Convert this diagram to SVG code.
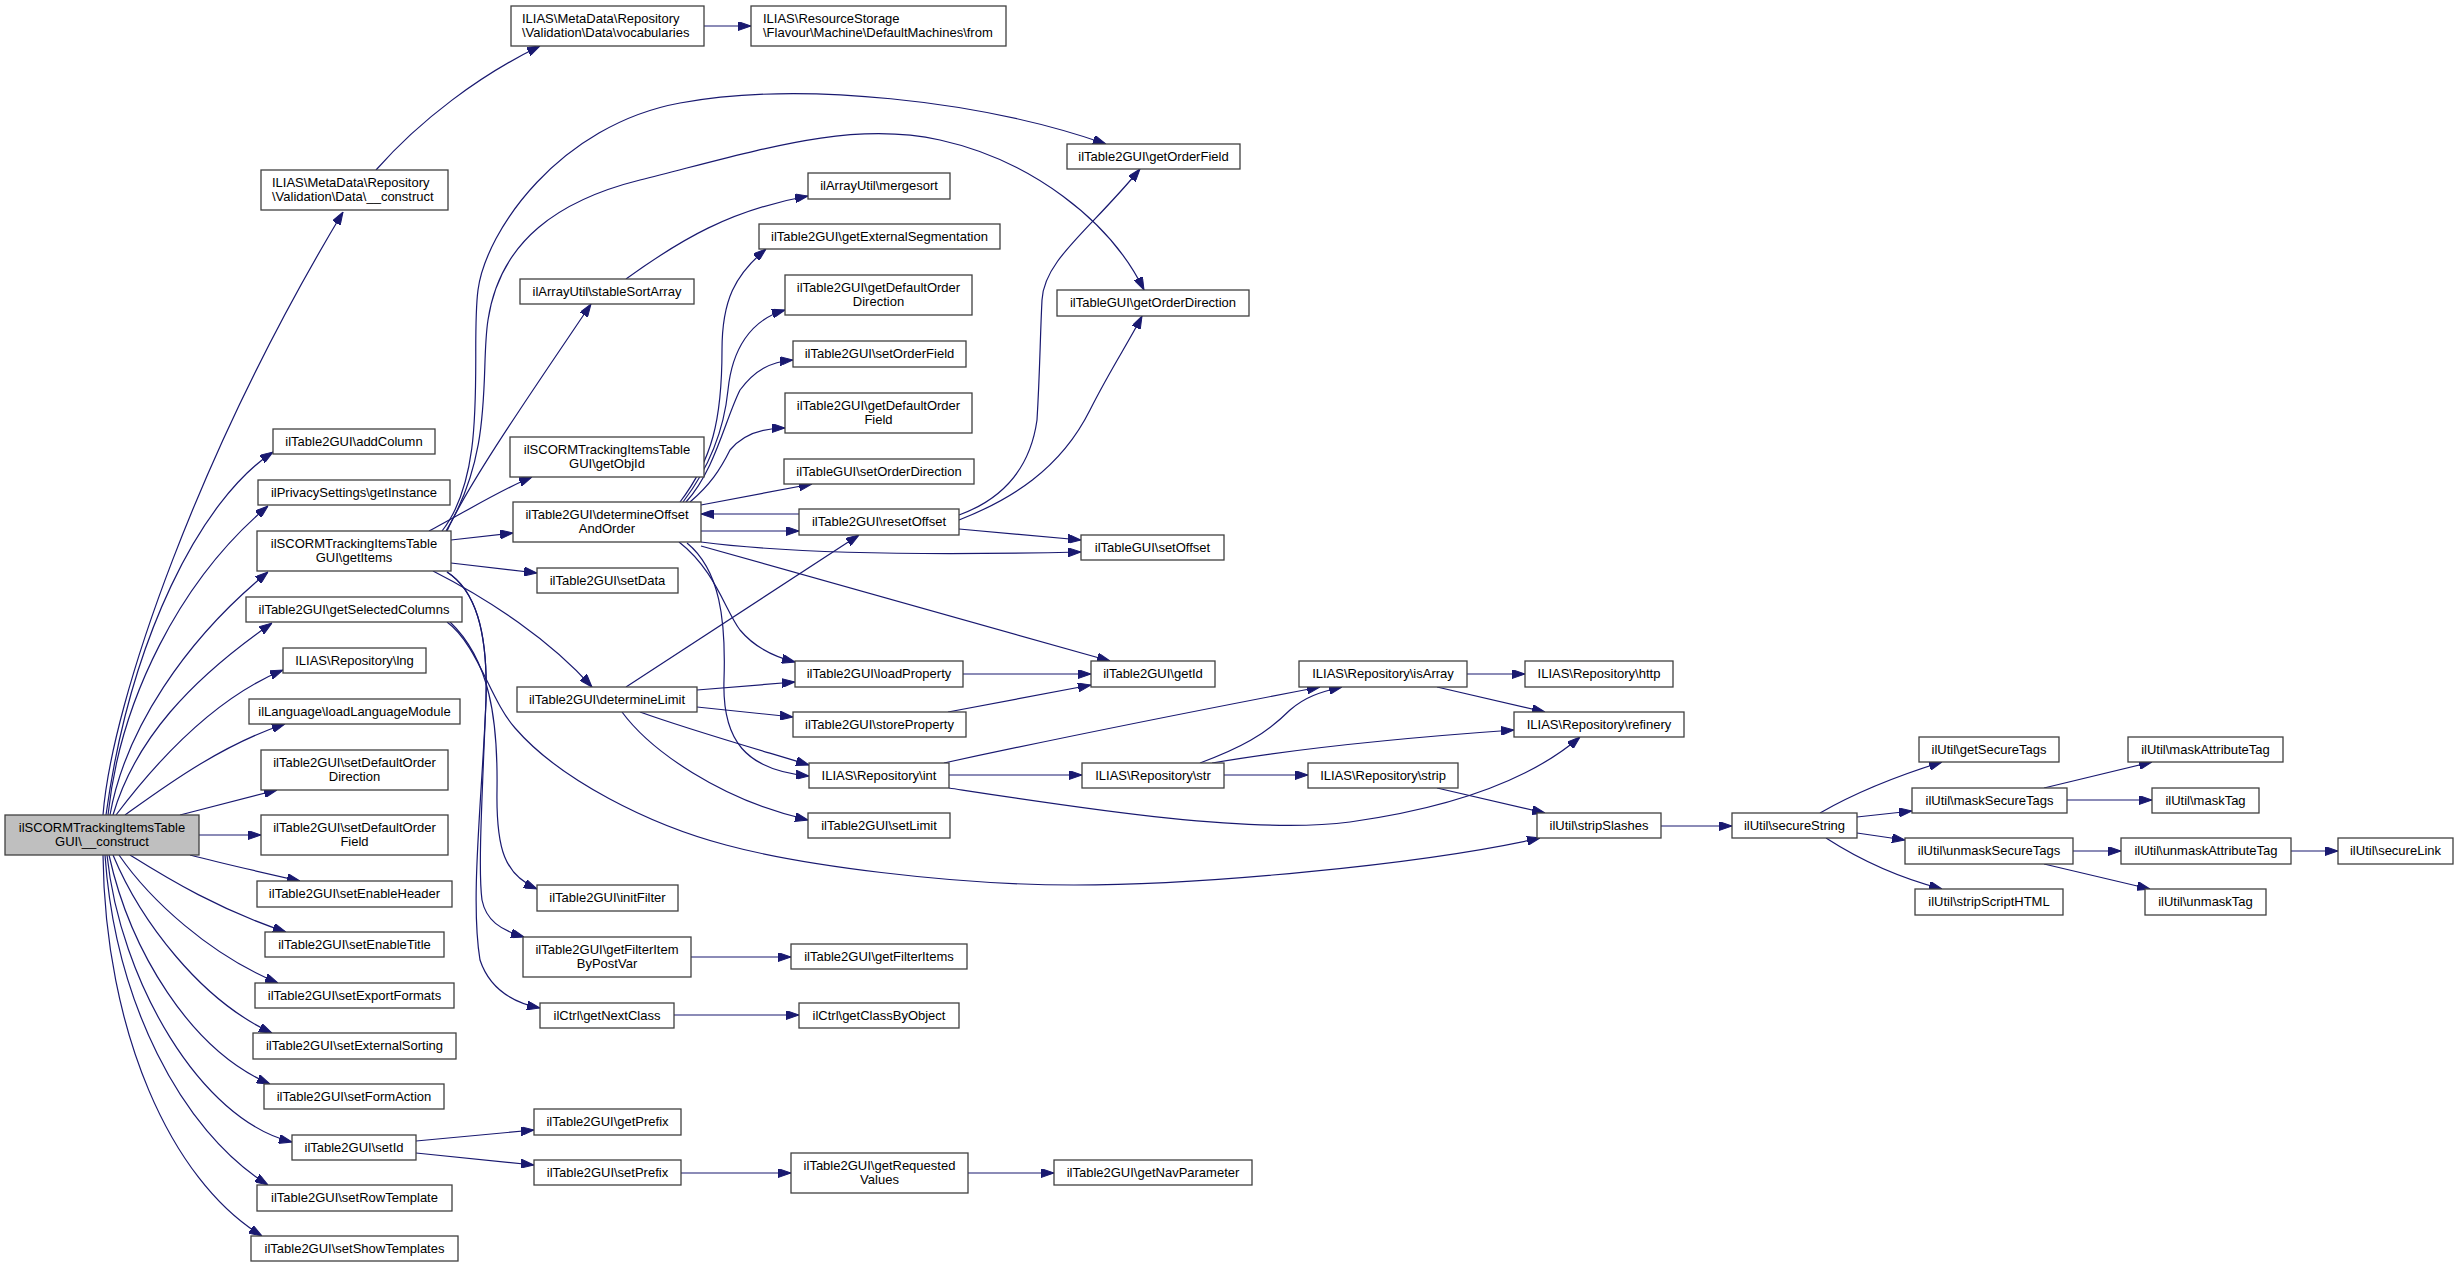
<svg xmlns="http://www.w3.org/2000/svg" width="2459" height="1267" viewBox="0 0 2459 1267">
<style>
.n rect{fill:#ffffff;stroke:#404040;stroke-width:1.3}
.m rect{fill:#bfbfbf;stroke:#404040;stroke-width:1.3}
text{font-family:"Liberation Sans",Arial,Helvetica,sans-serif;font-size:13px;fill:#000000;text-anchor:middle}
text.l{text-anchor:start}
#edges path{fill:none;stroke:#191970;stroke-width:1.2;marker-end:url(#ah)}
</style>
<defs>
<marker id="ah" markerUnits="userSpaceOnUse" markerWidth="13" markerHeight="9" refX="13" refY="4.5" orient="auto">
<path d="M0,0 L13,4.5 L0,9 z" fill="#191970" stroke="#191970" stroke-width="1"/>
</marker>
</defs>
<rect x="0" y="0" width="2459" height="1267" fill="#ffffff"/>
<g id="edges">
<path d="M103,815 C112,700 200,450 343,212"/>
<path d="M106,815 C130,640 200,500 273,452"/>
<path d="M108,815 C120,700 180,580 268,506"/>
<path d="M110,815 C125,730 185,640 268,572"/>
<path d="M113,815 C135,740 190,680 272,623"/>
<path d="M116,815 C150,770 210,700 283,670"/>
<path d="M125,815 C160,790 220,745 285,724"/>
<path d="M180,815 L277,790"/>
<path d="M199,835 L261,835"/>
<path d="M190,855 C220,863 260,872 300,881"/>
<path d="M130,855 C170,880 220,910 286,932"/>
<path d="M119,855 C150,900 210,955 278,983"/>
<path d="M113,855 C140,920 200,1000 272,1033"/>
<path d="M109,855 C130,950 190,1050 270,1084"/>
<path d="M107,855 C120,980 200,1120 292,1142"/>
<path d="M105,855 C115,1000 180,1130 268,1185"/>
<path d="M103,855 C105,1030 170,1180 262,1236"/>
<path d="M376,170 C420,120 480,75 540,46"/>
<path d="M704,26 L751,26"/>
<path d="M429,531 C460,515 500,490 532,477"/>
<path d="M451,540 L513,533"/>
<path d="M451,563 L537,573"/>
<path d="M433,571 C490,600 550,640 592,687"/>
<path d="M447,531 C470,480 540,380 591,304"/>
<path d="M442,531 C490,470 470,350 478,290 C486,230 560,125 680,103 C800,81 980,100 1106,144"/>
<path d="M446,531 C495,450 480,370 488,320 C500,240 560,200 640,180 C760,150 850,120 940,140 C1030,160 1110,220 1144,290"/>
<path d="M447,572 C475,590 488,630 486,700 C482,800 478,870 482,900 C486,920 500,930 524,937"/>
<path d="M447,572 C475,590 488,630 486,700 C482,800 470,900 480,960 C490,990 515,1003 540,1008"/>
<path d="M450,622 C490,660 498,720 497,790 C496,850 505,875 537,889"/>
<path d="M447,622 C478,645 490,700 515,728 C560,780 650,825 726,845 C800,865 950,885 1074,885 C1200,885 1420,865 1540,838"/>
<path d="M626,279 C680,240 730,210 808,196"/>
<path d="M680,502 C712,460 722,420 722,350 C722,300 735,275 766,249"/>
<path d="M683,502 C715,460 725,420 728,390 C732,350 750,320 785,310"/>
<path d="M686,502 C715,470 725,420 740,390 C755,370 770,362 793,360"/>
<path d="M690,502 C710,485 720,470 730,450 C745,432 765,428 785,428"/>
<path d="M701,505 L812,484"/>
<path d="M701,531 L799,531"/>
<path d="M799,514 L701,514"/>
<path d="M701,542 C800,555 950,555 1081,552"/>
<path d="M701,546 L1110,661"/>
<path d="M679,542 C715,570 725,610 740,630 C755,648 775,657 795,662"/>
<path d="M687,543 C720,570 726,620 724,680 C722,740 745,770 809,776"/>
<path d="M626,687 L859,535"/>
<path d="M697,690 L795,682"/>
<path d="M697,707 L793,717"/>
<path d="M640,712 C690,730 760,750 809,765"/>
<path d="M622,712 C650,750 720,800 808,820"/>
<path d="M959,515 C1000,500 1030,470 1037,420 C1040,370 1040,340 1042,300 C1044,260 1090,230 1140,169"/>
<path d="M959,520 C1010,500 1060,470 1090,410 C1110,370 1130,340 1142,316"/>
<path d="M959,529 L1081,540"/>
<path d="M963,674 L1091,674"/>
<path d="M948,712 L1091,685"/>
<path d="M949,775 L1082,775"/>
<path d="M944,763 C1050,740 1200,710 1320,687"/>
<path d="M949,788 C1080,808 1250,835 1350,822 C1450,808 1530,780 1580,737"/>
<path d="M1200,763 C1240,748 1265,735 1290,710 C1305,697 1320,692 1342,687"/>
<path d="M1212,763 C1300,748 1400,738 1514,730"/>
<path d="M1224,775 L1308,775"/>
<path d="M1467,674 L1525,674"/>
<path d="M1437,687 L1545,712"/>
<path d="M1437,788 L1545,813"/>
<path d="M1661,826 L1732,826"/>
<path d="M1820,813 C1860,790 1900,775 1942,762"/>
<path d="M1857,817 L1912,811"/>
<path d="M1857,833 L1905,840"/>
<path d="M1826,838 C1860,860 1900,878 1942,889"/>
<path d="M2044,788 L2152,762"/>
<path d="M2067,800 L2152,800"/>
<path d="M2073,851 L2121,851"/>
<path d="M2044,864 L2150,889"/>
<path d="M2291,851 L2338,851"/>
<path d="M416,1141 L534,1130"/>
<path d="M416,1153 L534,1165"/>
<path d="M681,1173 L791,1173"/>
<path d="M968,1173 L1054,1173"/>
<path d="M691,957 L791,957"/>
<path d="M674,1015 L799,1015"/>
</g>
<g id="main" class="m"><rect x="5" y="815" width="194" height="40"/><text x="102" y="832">ilSCORMTrackingItemsTable</text><text x="102" y="846">GUI\__construct</text></g>
<g id="n_mdconstruct" class="n"><rect x="261" y="170" width="187" height="40"/><text class="l" x="272" y="187">ILIAS\MetaData\Repository</text><text class="l" x="272" y="201">\Validation\Data\__construct</text></g>
<g id="n_vocab" class="n"><rect x="511" y="6" width="193" height="40"/><text class="l" x="522" y="23">ILIAS\MetaData\Repository</text><text class="l" x="522" y="37">\Validation\Data\vocabularies</text></g>
<g id="n_from" class="n"><rect x="751" y="6" width="255" height="40"/><text class="l" x="763" y="23">ILIAS\ResourceStorage</text><text class="l" x="763" y="37">\Flavour\Machine\DefaultMachines\from</text></g>
<g id="n_addColumn" class="n"><rect x="273" y="429" width="162" height="25"/><text x="354" y="446">ilTable2GUI\addColumn</text></g>
<g id="n_getInstance" class="n"><rect x="258" y="480" width="192" height="25"/><text x="354" y="497">ilPrivacySettings\getInstance</text></g>
<g id="n_getItems" class="n"><rect x="257" y="531" width="194" height="40"/><text x="354" y="548">ilSCORMTrackingItemsTable</text><text x="354" y="562">GUI\getItems</text></g>
<g id="n_getSelectedColumns" class="n"><rect x="246" y="597" width="216" height="25"/><text x="354" y="614">ilTable2GUI\getSelectedColumns</text></g>
<g id="n_lng" class="n"><rect x="283" y="648" width="143" height="25"/><text x="354.5" y="665">ILIAS\Repository\lng</text></g>
<g id="n_loadLanguageModule" class="n"><rect x="249" y="699" width="211" height="25"/><text x="354.5" y="716">ilLanguage\loadLanguageModule</text></g>
<g id="n_setDefaultOrderDirection" class="n"><rect x="261" y="750" width="187" height="40"/><text x="354.5" y="767">ilTable2GUI\setDefaultOrder</text><text x="354.5" y="781">Direction</text></g>
<g id="n_setDefaultOrderField" class="n"><rect x="261" y="815" width="187" height="40"/><text x="354.5" y="832">ilTable2GUI\setDefaultOrder</text><text x="354.5" y="846">Field</text></g>
<g id="n_setEnableHeader" class="n"><rect x="257" y="881" width="195" height="26"/><text x="354.5" y="898">ilTable2GUI\setEnableHeader</text></g>
<g id="n_setEnableTitle" class="n"><rect x="265" y="932" width="179" height="25"/><text x="354.5" y="949">ilTable2GUI\setEnableTitle</text></g>
<g id="n_setExportFormats" class="n"><rect x="255" y="983" width="199" height="25"/><text x="354.5" y="1000">ilTable2GUI\setExportFormats</text></g>
<g id="n_setExternalSorting" class="n"><rect x="253" y="1033" width="203" height="26"/><text x="354.5" y="1050">ilTable2GUI\setExternalSorting</text></g>
<g id="n_setFormAction" class="n"><rect x="264" y="1084" width="180" height="25"/><text x="354" y="1101">ilTable2GUI\setFormAction</text></g>
<g id="n_setId" class="n"><rect x="292" y="1135" width="124" height="25"/><text x="354" y="1152">ilTable2GUI\setId</text></g>
<g id="n_setRowTemplate" class="n"><rect x="257" y="1185" width="195" height="26"/><text x="354.5" y="1202">ilTable2GUI\setRowTemplate</text></g>
<g id="n_setShowTemplates" class="n"><rect x="251" y="1236" width="207" height="25"/><text x="354.5" y="1253">ilTable2GUI\setShowTemplates</text></g>
<g id="n_stableSortArray" class="n"><rect x="520" y="279" width="174" height="25"/><text x="607" y="296">ilArrayUtil\stableSortArray</text></g>
<g id="n_getObjId" class="n"><rect x="510" y="437" width="194" height="40"/><text x="607" y="454">ilSCORMTrackingItemsTable</text><text x="607" y="468">GUI\getObjId</text></g>
<g id="n_determineOffsetAndOrder" class="n"><rect x="513" y="502" width="188" height="40"/><text x="607" y="519">ilTable2GUI\determineOffset</text><text x="607" y="533">AndOrder</text></g>
<g id="n_setData" class="n"><rect x="537" y="568" width="141" height="25"/><text x="607.5" y="585">ilTable2GUI\setData</text></g>
<g id="n_determineLimit" class="n"><rect x="517" y="687" width="180" height="25"/><text x="607" y="704">ilTable2GUI\determineLimit</text></g>
<g id="n_initFilter" class="n"><rect x="537" y="885" width="141" height="26"/><text x="607.5" y="902">ilTable2GUI\initFilter</text></g>
<g id="n_getFilterItemByPostVar" class="n"><rect x="523" y="937" width="168" height="40"/><text x="607" y="954">ilTable2GUI\getFilterItem</text><text x="607" y="968">ByPostVar</text></g>
<g id="n_getNextClass" class="n"><rect x="540" y="1003" width="134" height="25"/><text x="607" y="1020">ilCtrl\getNextClass</text></g>
<g id="n_getPrefix" class="n"><rect x="534" y="1109" width="147" height="26"/><text x="607.5" y="1126">ilTable2GUI\getPrefix</text></g>
<g id="n_setPrefix" class="n"><rect x="534" y="1160" width="147" height="25"/><text x="607.5" y="1177">ilTable2GUI\setPrefix</text></g>
<g id="n_mergesort" class="n"><rect x="808" y="173" width="142" height="26"/><text x="879" y="190">ilArrayUtil\mergesort</text></g>
<g id="n_getExternalSegmentation" class="n"><rect x="759" y="224" width="241" height="25"/><text x="879.5" y="241">ilTable2GUI\getExternalSegmentation</text></g>
<g id="n_getDefaultOrderDirection" class="n"><rect x="785" y="275" width="187" height="40"/><text x="878.5" y="292">ilTable2GUI\getDefaultOrder</text><text x="878.5" y="306">Direction</text></g>
<g id="n_setOrderField" class="n"><rect x="793" y="341" width="173" height="26"/><text x="879.5" y="358">ilTable2GUI\setOrderField</text></g>
<g id="n_getDefaultOrderField" class="n"><rect x="785" y="393" width="187" height="40"/><text x="878.5" y="410">ilTable2GUI\getDefaultOrder</text><text x="878.5" y="424">Field</text></g>
<g id="n_setOrderDirection" class="n"><rect x="784" y="459" width="190" height="25"/><text x="879" y="476">ilTableGUI\setOrderDirection</text></g>
<g id="n_resetOffset" class="n"><rect x="799" y="509" width="160" height="26"/><text x="879" y="526">ilTable2GUI\resetOffset</text></g>
<g id="n_loadProperty" class="n"><rect x="795" y="661" width="168" height="26"/><text x="879" y="678">ilTable2GUI\loadProperty</text></g>
<g id="n_storeProperty" class="n"><rect x="793" y="712" width="173" height="25"/><text x="879.5" y="729">ilTable2GUI\storeProperty</text></g>
<g id="n_int" class="n"><rect x="809" y="763" width="140" height="25"/><text x="879" y="780">ILIAS\Repository\int</text></g>
<g id="n_setLimit" class="n"><rect x="808" y="813" width="142" height="25"/><text x="879" y="830">ilTable2GUI\setLimit</text></g>
<g id="n_getFilterItems" class="n"><rect x="791" y="944" width="176" height="25"/><text x="879" y="961">ilTable2GUI\getFilterItems</text></g>
<g id="n_getClassByObject" class="n"><rect x="799" y="1003" width="160" height="25"/><text x="879" y="1020">ilCtrl\getClassByObject</text></g>
<g id="n_getRequestedValues" class="n"><rect x="791" y="1153" width="177" height="40"/><text x="879.5" y="1170">ilTable2GUI\getRequested</text><text x="879.5" y="1184">Values</text></g>
<g id="n_getOrderField" class="n"><rect x="1067" y="144" width="173" height="25"/><text x="1153.5" y="161">ilTable2GUI\getOrderField</text></g>
<g id="n_getOrderDirection" class="n"><rect x="1057" y="290" width="192" height="26"/><text x="1153" y="307">ilTableGUI\getOrderDirection</text></g>
<g id="n_setOffset" class="n"><rect x="1081" y="535" width="143" height="25"/><text x="1152.5" y="552">ilTableGUI\setOffset</text></g>
<g id="n_getId" class="n"><rect x="1091" y="661" width="124" height="26"/><text x="1153" y="678">ilTable2GUI\getId</text></g>
<g id="n_str" class="n"><rect x="1082" y="763" width="142" height="25"/><text x="1153" y="780">ILIAS\Repository\str</text></g>
<g id="n_getNavParameter" class="n"><rect x="1054" y="1160" width="198" height="25"/><text x="1153" y="1177">ilTable2GUI\getNavParameter</text></g>
<g id="n_isArray" class="n"><rect x="1299" y="661" width="168" height="26"/><text x="1383" y="678">ILIAS\Repository\isArray</text></g>
<g id="n_strip" class="n"><rect x="1308" y="763" width="150" height="25"/><text x="1383" y="780">ILIAS\Repository\strip</text></g>
<g id="n_http" class="n"><rect x="1525" y="661" width="148" height="26"/><text x="1599" y="678">ILIAS\Repository\http</text></g>
<g id="n_refinery" class="n"><rect x="1514" y="712" width="170" height="25"/><text x="1599" y="729">ILIAS\Repository\refinery</text></g>
<g id="n_stripSlashes" class="n"><rect x="1537" y="813" width="124" height="25"/><text x="1599" y="830">ilUtil\stripSlashes</text></g>
<g id="n_secureString" class="n"><rect x="1732" y="813" width="125" height="25"/><text x="1794.5" y="830">ilUtil\secureString</text></g>
<g id="n_getSecureTags" class="n"><rect x="1919" y="737" width="140" height="25"/><text x="1989" y="754">ilUtil\getSecureTags</text></g>
<g id="n_maskAttributeTag" class="n"><rect x="2128" y="737" width="155" height="25"/><text x="2205.5" y="754">ilUtil\maskAttributeTag</text></g>
<g id="n_maskSecureTags" class="n"><rect x="1912" y="788" width="155" height="25"/><text x="1989.5" y="805">ilUtil\maskSecureTags</text></g>
<g id="n_maskTag" class="n"><rect x="2152" y="788" width="107" height="25"/><text x="2205.5" y="805">ilUtil\maskTag</text></g>
<g id="n_unmaskSecureTags" class="n"><rect x="1905" y="838" width="168" height="26"/><text x="1989" y="855">ilUtil\unmaskSecureTags</text></g>
<g id="n_unmaskAttributeTag" class="n"><rect x="2121" y="838" width="170" height="26"/><text x="2206" y="855">ilUtil\unmaskAttributeTag</text></g>
<g id="n_secureLink" class="n"><rect x="2338" y="838" width="115" height="26"/><text x="2395.5" y="855">ilUtil\secureLink</text></g>
<g id="n_stripScriptHTML" class="n"><rect x="1915" y="889" width="148" height="26"/><text x="1989" y="906">ilUtil\stripScriptHTML</text></g>
<g id="n_unmaskTag" class="n"><rect x="2145" y="889" width="121" height="26"/><text x="2205.5" y="906">ilUtil\unmaskTag</text></g>
</svg>
